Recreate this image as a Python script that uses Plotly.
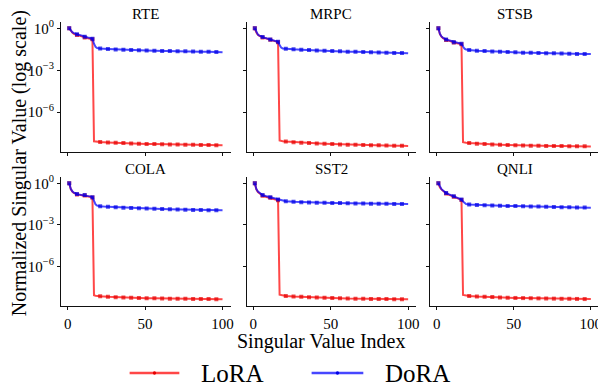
import plotly.graph_objects as go

# ---------------- data (log10 of normalized singular value) ----------------
INDEX = [1, 2, 3, 4, 6, 8, 11, 13, 15, 16, 17, 18, 19, 21, 26, 31, 36, 41, 46,
         51, 56, 61, 66, 71, 76, 81, 86, 91, 96, 100]

TASKS = ["RTE", "MRPC", "STSB", "COLA", "SST2", "QNLI"]

RTE_DORA = [0, -0.18, -0.28, -0.35, -0.43, -0.50, -0.60, -0.66, -0.71, -0.74, -1.10, -1.33, -1.41, -1.45, -1.48,
            -1.51, -1.53, -1.55, -1.57, -1.59, -1.60, -1.62, -1.63, -1.64, -1.65, -1.66, -1.67, -1.68, -1.70, -1.71]
RTE_LORA = [0, -0.20, -0.31, -0.39, -0.48, -0.56, -0.65, -0.71, -0.76, -0.79, -8.08, -8.10, -8.11, -8.13, -8.16,
            -8.19, -8.21, -8.23, -8.25, -8.27, -8.28, -8.29, -8.30, -8.31, -8.32, -8.33, -8.34, -8.35, -8.36, -8.37]

MRPC_DORA = [0, -0.30, -0.45, -0.53, -0.63, -0.70, -0.80, -0.86, -0.92, -0.97, -1.20, -1.38, -1.44, -1.47, -1.50,
             -1.53, -1.56, -1.58, -1.61, -1.63, -1.65, -1.67, -1.68, -1.70, -1.72, -1.73, -1.75, -1.76, -1.77, -1.78]
MRPC_LORA = [0, -0.31, -0.46, -0.55, -0.65, -0.72, -0.82, -0.88, -0.94, -0.99, -8.02, -8.06, -8.08, -8.10, -8.14,
             -8.18, -8.21, -8.24, -8.26, -8.28, -8.30, -8.32, -8.33, -8.35, -8.36, -8.37, -8.38, -8.39, -8.40, -8.41]

STSB_DORA = [0, -0.40, -0.58, -0.68, -0.80, -0.87, -0.99, -1.04, -1.08, -1.11, -1.30, -1.46, -1.52, -1.56, -1.60,
             -1.63, -1.66, -1.68, -1.70, -1.72, -1.74, -1.75, -1.77, -1.78, -1.79, -1.80, -1.82, -1.83, -1.84, -1.84]
STSB_LORA = [0, -0.42, -0.60, -0.71, -0.83, -0.91, -1.02, -1.07, -1.11, -1.14, -8.15, -8.18, -8.19, -8.21, -8.25,
             -8.28, -8.31, -8.33, -8.35, -8.37, -8.38, -8.39, -8.40, -8.41, -8.42, -8.42, -8.43, -8.44, -8.44, -8.45]

COLA_DORA = [0, -0.40, -0.58, -0.68, -0.78, -0.81, -0.85, -0.90, -0.96, -1.00, -1.28, -1.52, -1.61, -1.66, -1.70,
             -1.73, -1.76, -1.78, -1.80, -1.82, -1.84, -1.86, -1.88, -1.89, -1.90, -1.92, -1.93, -1.94, -1.95, -1.95]
COLA_LORA = [0, -0.42, -0.60, -0.70, -0.80, -0.83, -0.88, -0.93, -0.98, -1.02, -8.08, -8.11, -8.13, -8.15, -8.19,
             -8.22, -8.24, -8.26, -8.28, -8.29, -8.30, -8.31, -8.32, -8.33, -8.33, -8.34, -8.35, -8.35, -8.36, -8.36]

SST2_DORA = [0, -0.42, -0.60, -0.70, -0.85, -0.92, -1.00, -1.06, -1.12, -1.17, -1.21, -1.24, -1.26, -1.29, -1.33,
             -1.36, -1.38, -1.40, -1.41, -1.42, -1.43, -1.44, -1.45, -1.46, -1.47, -1.48, -1.48, -1.49, -1.50, -1.50]
SST2_LORA = [0, -0.44, -0.63, -0.74, -0.89, -0.97, -1.05, -1.11, -1.17, -1.22, -8.04, -8.07, -8.09, -8.12, -8.16,
             -8.19, -8.22, -8.24, -8.26, -8.28, -8.29, -8.31, -8.32, -8.33, -8.34, -8.35, -8.35, -8.36, -8.37, -8.37]

QNLI_DORA = [0, -0.28, -0.42, -0.52, -0.70, -0.80, -0.94, -1.02, -1.10, -1.17, -1.32, -1.44, -1.49, -1.53, -1.56,
             -1.58, -1.60, -1.62, -1.63, -1.64, -1.66, -1.67, -1.68, -1.70, -1.71, -1.72, -1.73, -1.74, -1.75, -1.76]
QNLI_LORA = [0, -0.30, -0.44, -0.55, -0.73, -0.83, -0.97, -1.05, -1.13, -1.20, -8.05, -8.08, -8.10, -8.12, -8.16,
             -8.19, -8.21, -8.23, -8.25, -8.27, -8.28, -8.29, -8.30, -8.31, -8.32, -8.33, -8.33, -8.34, -8.35, -8.35]

LORA = [RTE_LORA, MRPC_LORA, STSB_LORA, COLA_LORA, SST2_LORA, QNLI_LORA]
DORA = [RTE_DORA, MRPC_DORA, STSB_DORA, COLA_DORA, SST2_DORA, QNLI_DORA]

SERIES_NAMES = ["LoRA", "DoRA"]
Y_TICKS = [0, -3, -6]
Y_TICK_TEXT = ["10<sup>0</sup>", "10<sup>\u22123</sup>", "10<sup>\u22126</sup>"]
X_TICKS = [0, 50, 100]

# ---------------- style / geometry ----------------
FONT = "Liberation Serif"
RED_LINE, RED_MK = "rgba(255,0,0,0.72)", "rgb(230,0,0)"
BLUE_LINE, BLUE_MK = "rgba(0,0,255,0.72)", "rgb(0,0,230)"

OFF = 8                      # default page margin of the html body
W, H = 606 - OFF, 391 - OFF
ML, MR, MT, MB = 61 - OFF, 4, 22 - OFF, 85
PW, PH = W - ML - MR, H - MT - MB


def px_x(p):  # window pixel -> paper coordinate
    return (p - OFF - ML) / PW


def px_y(p):
    return (H - MB - (p - OFF)) / PH


XDOM = [[0.0, 0.3155], [0.3450, 0.6605], [0.6863, 1.0]]
YDOM = [[0.542, 1.0], [0.0, 0.454]]
TITLE_Y = [14, 169]          # window pixel centre of the panel titles, per row

mk_size = [4 if (i - 1) % 5 == 0 else 0 for i in INDEX]

fig = go.Figure()
layout = {}
for k, task in enumerate(TASKS):
    r, c = divmod(k, 3)
    n = k + 1
    xa = "x" if n == 1 else f"x{n}"
    ya = "y" if n == 1 else f"y{n}"
    for vals, lc, mc, nm in ((LORA[k], RED_LINE, RED_MK, SERIES_NAMES[0]),
                             (DORA[k], BLUE_LINE, BLUE_MK, SERIES_NAMES[1])):
        fig.add_trace(go.Scatter(
            x=INDEX, y=[10 ** v for v in vals], mode="lines+markers", name=nm,
            line=dict(color=lc, width=2),
            marker=dict(color=mc, size=mk_size, symbol="square", line=dict(width=0)),
            xaxis=xa, yaxis=ya, showlegend=False, hoverinfo="skip"))
    axcommon = dict(showline=True, linecolor="#111", linewidth=1, ticks="outside",
                    ticklen=3, tickcolor="#111", showgrid=False, zeroline=False,
                    tickfont=dict(family=FONT, size=15, color="black"))
    layout["xaxis" if n == 1 else f"xaxis{n}"] = dict(
        domain=XDOM[c], anchor=ya, range=[-4.3, 105.3], tickvals=X_TICKS,
        showticklabels=(r == 1), ticklabelstandoff=1, **axcommon)
    layout["yaxis" if n == 1 else f"yaxis{n}"] = dict(
        domain=YDOM[r], anchor=xa, type="log", range=[-8.85, 0.45],
        tickvals=[10 ** t for t in Y_TICKS], ticktext=Y_TICK_TEXT,
        showticklabels=(c == 0), **axcommon)

annotations = []
shapes = []
for k, task in enumerate(TASKS):
    r, c = divmod(k, 3)
    annotations.append(dict(text=task, xref="paper", yref="paper",
                            x=(XDOM[c][0] + XDOM[c][1]) / 2, y=px_y(TITLE_Y[r]),
                            xanchor="center", yanchor="middle", showarrow=False,
                            font=dict(family=FONT, size=15, color="black")))
annotations.append(dict(text="Singular Value Index", xref="paper", yref="paper",
                        x=px_x(323), y=px_y(341), xanchor="center", yanchor="middle",
                        showarrow=False, font=dict(family=FONT, size=20, color="black")))
annotations.append(dict(text="Normalized Singular Value (log scale)", xref="paper", yref="paper",
                        x=px_x(19), y=px_y(163), xanchor="center", yanchor="middle", textangle=-90,
                        showarrow=False, font=dict(family=FONT, size=20, color="black")))

# custom legend (line sample with a dot, then the label)
LEG_Y = 373
for (x0, x1, xt), nm, lc, mc in (((130, 180, 200), SERIES_NAMES[0], RED_LINE, RED_MK),
                                 ((313, 365, 385), SERIES_NAMES[1], BLUE_LINE, BLUE_MK)):
    shapes.append(dict(type="line", xref="paper", yref="paper",
                       x0=px_x(x0), x1=px_x(x1), y0=px_y(LEG_Y), y1=px_y(LEG_Y),
                       line=dict(color=lc, width=2.5)))
    xm = (x0 + x1) / 2
    shapes.append(dict(type="circle", xref="paper", yref="paper",
                       x0=px_x(xm - 1.7), x1=px_x(xm + 1.7), y0=px_y(LEG_Y + 1.7), y1=px_y(LEG_Y - 1.7),
                       fillcolor=mc, line=dict(width=0)))
    annotations.append(dict(text=nm, xref="paper", yref="paper", x=px_x(xt), y=px_y(LEG_Y),
                            xanchor="left", yanchor="middle", showarrow=False,
                            font=dict(family=FONT, size=25, color="black")))

fig.update_layout(
    width=W, height=H,
    margin=dict(l=ML, r=MR, t=MT, b=MB),
    paper_bgcolor="white", plot_bgcolor="white",
    font=dict(family=FONT, color="black"),
    showlegend=False,
    annotations=annotations,
    shapes=shapes,
    **layout,
)

fig.write_html("out.html")
